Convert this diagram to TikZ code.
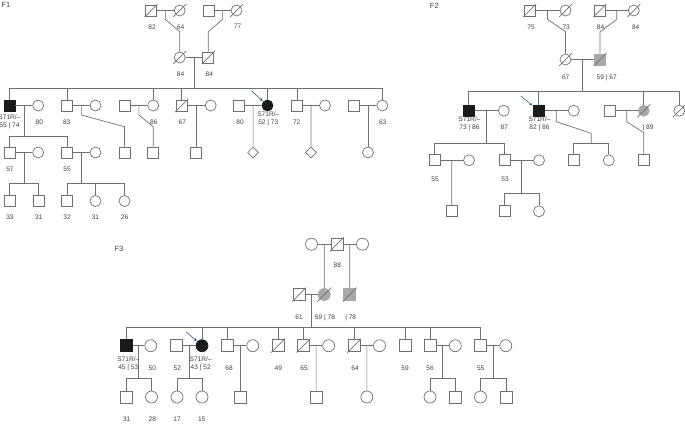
\documentclass[tikz,border=0pt]{standalone}
\usepackage{fontspec}
\setmainfont{Liberation Sans}
\usetikzlibrary{calc,arrows.meta,shapes.geometric}
\definecolor{lc}{HTML}{707070}
\definecolor{tc}{HTML}{404040}
\definecolor{aff}{HTML}{1A1A1A}
\definecolor{gry}{HTML}{A8A8A8}
\definecolor{arr}{HTML}{3B5675}
\newcommand\slsh[2][6.5]{\draw[ln] ($(#2.center)+(-#1,#1)$) -- ($(#2.center)+(#1,-#1)$);}
\begin{document}
\begin{tikzpicture}[x=1pt,y=-1pt,
  ml/.style={rectangle,draw=lc,fill=white,minimum size=11pt,inner sep=0pt,line width=0.7pt},
  fm/.style={circle,draw=lc,fill=white,minimum size=11pt,inner sep=0pt,line width=0.7pt},
  dm/.style={diamond,draw=lc,fill=white,minimum size=11pt,inner sep=0pt,line width=0.7pt},
  big/.style={minimum size=12pt},
  af/.style={fill=aff,draw=aff},
  gf/.style={fill=gry,draw=gry},
  lbl/.style={font=\fontsize{6.6}{8}\selectfont,text=tc,inner sep=0pt,align=center},
  ttl/.style={font=\fontsize{7.5}{9}\selectfont,text=tc,inner sep=0pt},
  ln/.style={draw=lc,line width=0.7pt},
  pa/.style={draw=arr,line width=0.55pt,-{Stealth[length=3.2pt,width=2.8pt]},shorten >=0.6pt},
]
\useasboundingbox (0,0) rectangle (685,424);

% ================= F1 =================
\node[ttl] (tF1) at (6,5) {F1};
\node[ml] (g1m) at (151,10.5) {};
\node[fm] (g1f) at (179.7,10.5) {};
\node[ml] (g2m) at (208.7,10.5) {};
\node[fm] (g2f) at (236.5,10.5) {};
\node[fm] (p1f) at (179.7,57.5) {};
\node[ml] (p1m) at (208.3,57.5) {};
\slsh{g1m}\slsh{g1f}\slsh{g2f}\slsh{p1f}\slsh{p1m}
\node[lbl] (l1) at (152,27) {82};
\node[lbl] (l2) at (180.5,27) {64};
\node[lbl] (l3) at (237.7,26.5) {77};
\node[lbl] (l4) at (180.5,74) {84};
\node[lbl] (l5) at (209.3,74) {84};
\draw[ln] (g1m) -- (g1f);
\draw[ln] (g2m) -- (g2f);
\draw[ln] (p1f) -- (p1m);
\coordinate (g1d) at ($(g1m.east)!.5!(g1f.west)$);
\coordinate (g1a) at ($(g1d)+(0,8.8)$);
\coordinate (g1b) at (179.7,31.7);
\draw[ln] (g1d) -- (g1a) -- (g1b) -- (p1f.north);
\coordinate (g2d) at ($(g2m.east)!.5!(g2f.west)$);
\coordinate (g2a) at ($(g2d)+(0,8.8)$);
\coordinate (g2b) at (208.3,31.7);
\draw[ln] (g2d) -- (g2a) -- (g2b) -- (p1m.north);
\coordinate (p1d) at ($(p1f.east)!.5!(p1m.west)$);
\coordinate (s1) at ($(p1d)+(0,30.8)$);
\draw[ln] (p1d) -- (s1);

% generation 2
\node[ml,af] (c1) at (9.5,105.5) {};
\node[fm] (w1) at (38.2,105.5) {};
\node[ml] (c2) at (67.2,105.5) {};
\node[fm] (w2) at (95.5,105.5) {};
\node[ml] (h3) at (124.5,105.5) {};
\node[fm] (c3) at (153.2,105.5) {};
\node[ml] (c4) at (181.7,105.5) {};
\node[fm] (w4) at (210.7,105.5) {};
\node[ml] (h5) at (238.7,105.5) {};
\node[fm,af] (c5) at (267.5,105.5) {};
\node[ml] (c6) at (297,105.5) {};
\node[fm] (w6) at (325,105.5) {};
\node[ml] (h7) at (353.7,105.5) {};
\node[fm] (c7) at (382.3,105.5) {};
\slsh{c4}
\foreach \n in {c1,c2,c3,c4,c5,c6,c7} {\draw[ln] (\n.north) |- (s1);}
\draw[ln] (c1) -- (w1);
\draw[ln] (c2) -- (w2);
\draw[ln] (h3) -- (c3);
\draw[ln] (c4) -- (w4);
\draw[ln] (h5) -- (c5);
\draw[ln] (c6) -- (w6);
\draw[ln] (h7) -- (c7);
\node[lbl] (l6) at (9.5,122.3) {S71R/–\\55 | 74};
\node[lbl] (l7) at (39.3,122) {80};
\node[lbl] (l8) at (66.7,122.3) {83};
\node[lbl] (l9) at (153.8,122.3) {86};
\node[lbl] (l10) at (182.3,122.3) {67};
\node[lbl] (l11) at (240,122.3) {80};
\node[lbl] (l12) at (268.3,118.8) {S71R/–\\52 | 73};
\node[lbl] (l13) at (296.7,122.3) {72};
\node[lbl] (l14) at (382.7,122.3) {63};
\coordinate (a5) at (251.7,91);
\draw[pa] (a5) -- (c5);

% generation 3
\coordinate (c1d) at ($(c1.east)!.5!(w1.west)$);
\coordinate (s2) at ($(c1d)+(0,30.5)$);
\draw[ln] (c1d) -- (s2);
\node[ml] (gc1) at (9.5,152.5) {};
\node[fm] (gc1w) at (38.2,152.5) {};
\node[ml] (gc2) at (67.2,152.5) {};
\node[fm] (gc2w) at (95.5,152.5) {};
\draw[ln] (gc1.north) |- (s2);
\draw[ln] (gc2.north) |- (s2);
\draw[ln] (gc1) -- (gc1w);
\draw[ln] (gc2) -- (gc2w);
\node[lbl] (l15) at (10,169.5) {57};
\node[lbl] (l16) at (67,169.5) {55};
\coordinate (gc1d) at ($(gc1.east)!.5!(gc1w.west)$);
\coordinate (s3) at ($(gc1d)+(0,31)$);
\draw[ln] (gc1d) -- (s3);
\coordinate (gc2d) at ($(gc2.east)!.5!(gc2w.west)$);
\coordinate (s4) at ($(gc2d)+(0,31)$);
\draw[ln] (gc2d) -- (s4);
\node[ml] (gg1) at (9.5,201) {};
\node[ml] (gg2) at (38.8,201) {};
\node[ml] (gg3) at (67.2,201) {};
\node[fm] (gg4) at (95.5,201) {};
\node[fm] (gg5) at (124.5,201) {};
\draw[ln] (gg1.north) |- (s3);
\draw[ln] (gg2.north) |- (s3);
\draw[ln] (gg3.north) |- (s4);
\draw[ln] (gg4.north) |- (s4);
\draw[ln] (gg5.north) |- (s4);
\node[lbl] (l17) at (10,217.5) {33};
\node[lbl] (l18) at (38.7,217.5) {31};
\node[lbl] (l19) at (67,217.5) {32};
\node[lbl] (l20) at (95.5,217.5) {31};
\node[lbl] (l21) at (124.5,217.5) {26};

\node[ml] (k2) at (124.5,152.5) {};
\node[ml] (k3) at (153.2,152.5) {};
\node[ml] (k4) at (196.2,152.5) {};
\node[dm] (k5) at (253.1,152.5) {};
\node[dm] (k6) at (311,152.5) {};
\node[fm] (k7) at (368,152.5) {};
\coordinate (c2d) at ($(c2.east)!.5!(w2.west)$);
\coordinate (c2a) at ($(c2d)+(0,9.5)$);
\coordinate (c2b) at (124.5,126.7);
\draw[ln] (c2d) -- (c2a) -- (c2b) -- (k2.north);
\coordinate (c3d) at ($(h3.east)!.5!(c3.west)$);
\coordinate (c3a) at ($(c3d)+(0,9.5)$);
\coordinate (c3b) at (153.2,126.7);
\draw[ln] (c3d) -- (c3a) -- (c3b) -- (k3.north);
\coordinate (c4d) at ($(c4.east)!.5!(w4.west)$);
\draw[ln] (c4d) -- (k4.north);
\coordinate (c5d) at ($(h5.east)!.5!(c5.west)$);
\draw[ln] (c5d) -- (k5.north);
\coordinate (c6d) at ($(c6.east)!.5!(w6.west)$);
\draw[ln] (c6d) -- (k6.north);
\coordinate (c7d) at ($(h7.east)!.5!(c7.west)$);
\draw[ln] (c7d) -- (k7.north);

% ================= F2 =================
\node[ttl] (tF2) at (434.3,5.7) {F2};
\node[ml] (a1m) at (529.5,10.5) {};
\node[fm] (a1f) at (565.5,10.5) {};
\node[ml] (a2m) at (599.8,10.5) {};
\node[fm] (a2f) at (633.8,10.5) {};
\node[fm] (b1f) at (565.5,59.5) {};
\node[ml,gf] (b1m) at (600,59.5) {};
\slsh{a1m}\slsh{a1f}\slsh{a2m}\slsh{a2f}\slsh{b1f}\slsh{b1m}
\node[lbl] (m1) at (531,27.3) {75};
\node[lbl] (m2) at (566.2,27.3) {73};
\node[lbl] (m3) at (600.5,27.3) {84};
\node[lbl] (m4) at (635.7,27.3) {84};
\node[lbl] (m5) at (565.7,77.7) {67};
\node[lbl] (m6) at (606.7,77.7) {59 | 67};
\draw[ln] (a1m) -- (a1f);
\draw[ln] (a2m) -- (a2f);
\draw[ln] (b1f) -- (b1m);
\coordinate (a1d) at ($(a1m.east)!.5!(a1f.west)$);
\coordinate (a1a) at ($(a1d)+(0,8.8)$);
\coordinate (a1b) at (565.5,31.7);
\draw[ln] (a1d) -- (a1a) -- (a1b) -- (b1f.north);
\coordinate (a2d) at ($(a2m.east)!.5!(a2f.west)$);
\coordinate (a2a) at ($(a2d)+(0,8.8)$);
\coordinate (a2b) at (600,31.7);
\draw[ln] (a2d) -- (a2a) -- (a2b) -- (b1m.north);
\coordinate (b1d) at ($(b1f.east)!.5!(b1m.west)$);
\coordinate (s5) at ($(b1d)+(0,32.2)$);
\draw[ln] (b1d) -- (s5);

\node[ml,af] (e1) at (468.8,110.7) {};
\node[fm] (e1w) at (503.8,110.7) {};
\node[ml,af] (e2) at (538.8,110.7) {};
\node[fm] (e2w) at (573.8,110.7) {};
\node[ml] (e3h) at (609.5,110.7) {};
\node[fm,gf] (e3) at (643.8,110.7) {};
\node[fm] (e4) at (679.3,110.7) {};
\slsh{e3}\slsh{e4}
\foreach \n in {e1,e2,e3,e4} {\draw[ln] (\n.north) |- (s5);}
\draw[ln] (e1) -- (e1w);
\draw[ln] (e2) -- (e2w);
\draw[ln] (e3h) -- (e3);
\node[lbl] (m7) at (469.5,123.5) {S71R/–\\73 | 86};
\node[lbl] (m8) at (504.3,127.5) {87};
\node[lbl] (m9) at (539.5,123.5) {S71R/–\\82 | 86};
\node[lbl] (m10) at (648,128) {| 89};
\coordinate (a6) at (520.7,96);
\draw[pa] (a6) -- (e2);

\coordinate (e1d) at ($(e1.east)!.5!(e1w.west)$);
\coordinate (s6) at ($(e1d)+(0,32.6)$);
\draw[ln] (e1d) -- (s6);
\node[ml] (f1) at (434.5,160.3) {};
\node[fm] (f1w) at (469,160.3) {};
\node[ml] (f2) at (504.5,160.3) {};
\node[fm] (f2w) at (539,160.3) {};
\draw[ln] (f1.north) |- (s6);
\draw[ln] (f2.north) |- (s6);
\draw[ln] (f1) -- (f1w);
\draw[ln] (f2) -- (f2w);
\node[lbl] (m11) at (435,179.3) {55};
\node[lbl] (m12) at (505,179.3) {53};
\coordinate (f1d) at ($(f1.east)!.5!(f1w.west)$);
\node[ml] (q1) at (451.75,211.3) {};
\draw[ln] (f1d) -- (q1.north);
\coordinate (f2d) at ($(f2.east)!.5!(f2w.west)$);
\coordinate (s7) at ($(f2d)+(0,33)$);
\draw[ln] (f2d) -- (s7);
\node[ml] (q2) at (504.5,211.3) {};
\node[fm] (q3) at (539,211.3) {};
\draw[ln] (q2.north) |- (s7);
\draw[ln] (q3.north) |- (s7);

\coordinate (e2d) at ($(e2.east)!.5!(e2w.west)$);
\coordinate (e2a) at ($(e2d)+(0,11)$);
\coordinate (e2b) at (591.3,133.3);
\coordinate (s8) at (591.3,143.3);
\draw[ln] (e2d) -- (e2a) -- (e2b) -- (s8);
\node[ml] (q4) at (573.8,160.3) {};
\node[fm] (q5) at (608.8,160.3) {};
\draw[ln] (q4.north) |- (s8);
\draw[ln] (q5.north) |- (s8);
\coordinate (e3d) at ($(e3h.east)!.5!(e3.west)$);
\coordinate (e3a) at ($(e3d)+(0,11)$);
\coordinate (e3b) at (643.8,132.7);
\node[ml] (q6) at (643.8,160.3) {};
\draw[ln] (e3d) -- (e3a) -- (e3b) -- (q6.north);

% ================= F3 =================
\node[ttl] (tF3) at (119,248.5) {F3};
\node[fm,big] (t1) at (311.5,244.2) {};
\node[ml,big] (t2) at (337,244.2) {};
\node[fm,big] (t3) at (362.5,244.2) {};
\node[ml,big] (u0) at (299,294.5) {};
\node[fm,big,gf] (u1) at (324.25,294.5) {};
\node[ml,big,gf] (u2) at (349.75,294.5) {};
\slsh[7]{t2}\slsh[7]{u0}\slsh[7]{u1}\slsh[7]{u2}
\draw[ln] (t1) -- (t2);
\draw[ln] (t2) -- (t3);
\draw[ln] (u0) -- (u1);
\coordinate (t1d) at ($(t1.east)!.5!(t2.west)$);
\draw[ln] (t1d) -- (u1.north);
\coordinate (t2d) at ($(t2.east)!.5!(t3.west)$);
\draw[ln] (t2d) -- (u2.north);
\node[lbl] (n1) at (337.3,265.7) {88};
\node[lbl] (n2) at (299,317.3) {61};
\node[lbl] (n3) at (325,317.3) {59 | 78};
\node[lbl] (n4) at (350.7,317.3) {| 78};
\coordinate (u0d) at ($(u0.east)!.5!(u1.west)$);
\coordinate (s9) at ($(u0d)+(0,32.8)$);
\draw[ln] (u0d) -- (s9);

\node[ml,big,af] (v1) at (126.2,345.7) {};
\node[fm,big] (v1w) at (150.8,345.7) {};
\node[ml,big] (v2h) at (176.7,345.7) {};
\node[fm,big,af] (v2) at (202,345.7) {};
\node[ml,big] (v3) at (227.5,345.7) {};
\node[fm,big] (v3w) at (252.8,345.7) {};
\node[ml,big] (v4) at (278,345.7) {};
\node[ml,big] (v5) at (303.5,345.7) {};
\node[fm,big] (v5w) at (328.7,345.7) {};
\node[ml,big] (v6) at (354.2,345.7) {};
\node[fm,big] (v6w) at (379.5,345.7) {};
\node[ml,big] (v7) at (405,345.7) {};
\node[ml,big] (v8) at (430,345.7) {};
\node[fm,big] (v8w) at (455.3,345.7) {};
\node[ml,big] (v9) at (480.5,345.7) {};
\node[fm,big] (v9w) at (505.8,345.7) {};
\slsh[7]{v4}\slsh[7]{v5}\slsh[7]{v6}
\foreach \n in {v1,v2,v3,v4,v5,v6,v7,v8,v9} {\draw[ln] (\n.north) |- (s9);}
\draw[ln] (v1) -- (v1w);
\draw[ln] (v2h) -- (v2);
\draw[ln] (v3) -- (v3w);
\draw[ln] (v5) -- (v5w);
\draw[ln] (v6) -- (v6w);
\draw[ln] (v8) -- (v8w);
\draw[ln] (v9) -- (v9w);
\node[lbl] (n5) at (128.3,364.2) {S71R/–\\45 | 53};
\node[lbl] (n6) at (152.3,368.3) {50};
\node[lbl] (n7) at (177.3,368.3) {52};
\node[lbl] (n8) at (200.7,364.2) {S71R/–\\43 | 52};
\node[lbl] (n9) at (229,368.3) {68};
\node[lbl] (n10) at (278.3,368.3) {49};
\node[lbl] (n11) at (304,368.3) {65};
\node[lbl] (n12) at (355,368.3) {64};
\node[lbl] (n13) at (405,368.3) {59};
\node[lbl] (n14) at (430,368.3) {56};
\node[lbl] (n15) at (480.7,368.3) {55};
\coordinate (a7) at (186,331.7);
\draw[pa] (a7) -- (v2);

\coordinate (v1d) at ($(v1.east)!.5!(v1w.west)$);
\coordinate (s10) at ($(v1d)+(0,32.6)$);
\draw[ln] (v1d) -- (s10);
\node[ml,big] (x1) at (126.2,397) {};
\node[fm,big] (x2) at (151.5,397) {};
\draw[ln] (x1.north) |- (s10);
\draw[ln] (x2.north) |- (s10);
\coordinate (v2d) at ($(v2h.east)!.5!(v2.west)$);
\coordinate (s11) at ($(v2d)+(0,32.6)$);
\draw[ln] (v2d) -- (s11);
\node[fm,big] (x3) at (177,397) {};
\node[fm,big] (x4) at (202,397) {};
\draw[ln] (x3.north) |- (s11);
\draw[ln] (x4.north) |- (s11);
\coordinate (v3d) at ($(v3.east)!.5!(v3w.west)$);
\node[ml,big] (x5) at (240.15,397) {};
\draw[ln] (v3d) -- (x5.north);
\coordinate (v5d) at ($(v5.east)!.5!(v5w.west)$);
\node[ml,big] (x6) at (316.1,397) {};
\draw[ln] (v5d) -- (x6.north);
\coordinate (v6d) at ($(v6.east)!.5!(v6w.west)$);
\node[fm,big] (x7) at (366.85,397) {};
\draw[ln] (v6d) -- (x7.north);
\coordinate (v8d) at ($(v8.east)!.5!(v8w.west)$);
\coordinate (s12) at ($(v8d)+(0,32.6)$);
\draw[ln] (v8d) -- (s12);
\node[fm,big] (x8) at (430,397) {};
\node[ml,big] (x9) at (455.3,397) {};
\draw[ln] (x8.north) |- (s12);
\draw[ln] (x9.north) |- (s12);
\coordinate (v9d) at ($(v9.east)!.5!(v9w.west)$);
\coordinate (s13) at ($(v9d)+(0,32.6)$);
\draw[ln] (v9d) -- (s13);
\node[fm,big] (x10) at (480.5,397) {};
\node[ml,big] (x11) at (506,397) {};
\draw[ln] (x10.north) |- (s13);
\draw[ln] (x11.north) |- (s13);
\node[lbl] (n16) at (126.7,419) {31};
\node[lbl] (n17) at (152.3,419) {28};
\node[lbl] (n18) at (177,419) {17};
\node[lbl] (n19) at (201.7,419) {15};
\end{tikzpicture}
\end{document}
